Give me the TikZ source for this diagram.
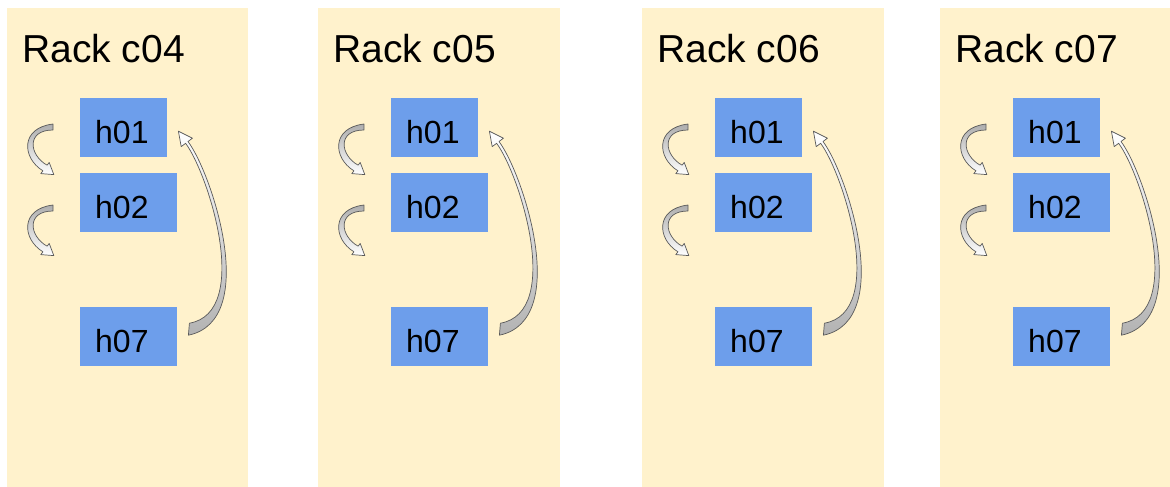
\documentclass[tikz,border=0pt]{standalone}
\usepackage{fontspec}
\setmainfont{Liberation Sans}
\usetikzlibrary{calc}
\definecolor{rackfill}{HTML}{FFF2CC}
\definecolor{hostfill}{HTML}{6D9EEB}
\definecolor{arrowline}{HTML}{5A5A5A}
\tikzset{
  rack/.style={fill=rackfill, draw=none, anchor=north west, inner sep=0pt,
    minimum height=479pt},
  racktitle/.style={anchor=base west, inner sep=0pt, font=\fontsize{39}{39}\selectfont},
  host/.style={fill=hostfill, draw=none, anchor=north west, inner xsep=15pt,
    inner ysep=0pt, minimum height=59pt, text height=31pt, text depth=0pt,
    align=left, font=\fontsize{32}{32}\selectfont},
  arrowbody/.style={draw=arrowline, line width=0.7pt, line join=round},
  % short curved hop arrow, origin at the upper corner of its tail
  hop arrow/.pic={
    \path[arrowbody, top color=black!32, bottom color=white]
      (0,0) .. controls (-33,4) and (-31,34) .. (-10.1,46.8)
      -- (-12.2,49.6) -- (0.8,50.6) -- (-3.8,38.4) -- (-5.9,41.2)
      .. controls (-24,31) and (-27,6) .. (0,6) -- cycle;
  }
}
\begin{document}
\begin{tikzpicture}[x=1pt, y=-1pt]
\useasboundingbox (0,0) rectangle (1170,487);
\foreach \xo/\rk/\rw in {7/c04/241, 318/c05/242, 642/c06/242, 940/c07/230} {
  \node[rack, minimum width=\rw pt] (rack-\rk) at (\xo,8) {};
  \node[racktitle] (title-\rk) at (\xo+15,63) {Rack \rk};
  \node[host, text width=57pt] (h01-\rk) at (\xo+73,98) {h01};
  \node[host, text width=67pt] (h02-\rk) at (\xo+73,173) {h02};
  \node[host, text width=67pt] (h07-\rk) at (\xo+73,307) {h07};
  % hops between neighbouring hosts
  \pic at ($(h01-\rk.north west)+(-27,26)$) {hop arrow};
  \pic at ($(h02-\rk.north west)+(-27,32)$) {hop arrow};
  % wrap-around from h07 back to h01
  \coordinate (tail-\rk) at ($(h07-\rk.east)+(11,-1.5)$);
  \coordinate (tip-\rk) at ($(h01-\rk.east)+(11,3.5)$);
  \path[arrowbody, top color=white, bottom color=black!30]
    (tail-\rk) .. controls ($(tail-\rk)+(72,-15)$) and ($(tip-\rk)+(33.6,42.3)$)
      .. ($(tip-\rk)+(9.6,10.3)$)
    -- ($(tip-\rk)+(14,7)$) -- (tip-\rk) -- ($(tip-\rk)+(2.8,15.4)$)
    -- ($(tip-\rk)+(7.2,12.1)$)
    .. controls ($(tip-\rk)+(30,42.5)$) and ($(tail-\rk)+(64,-23)$)
      .. ($(tail-\rk)+(1,-12)$) -- cycle;
}
\end{tikzpicture}
\end{document}
